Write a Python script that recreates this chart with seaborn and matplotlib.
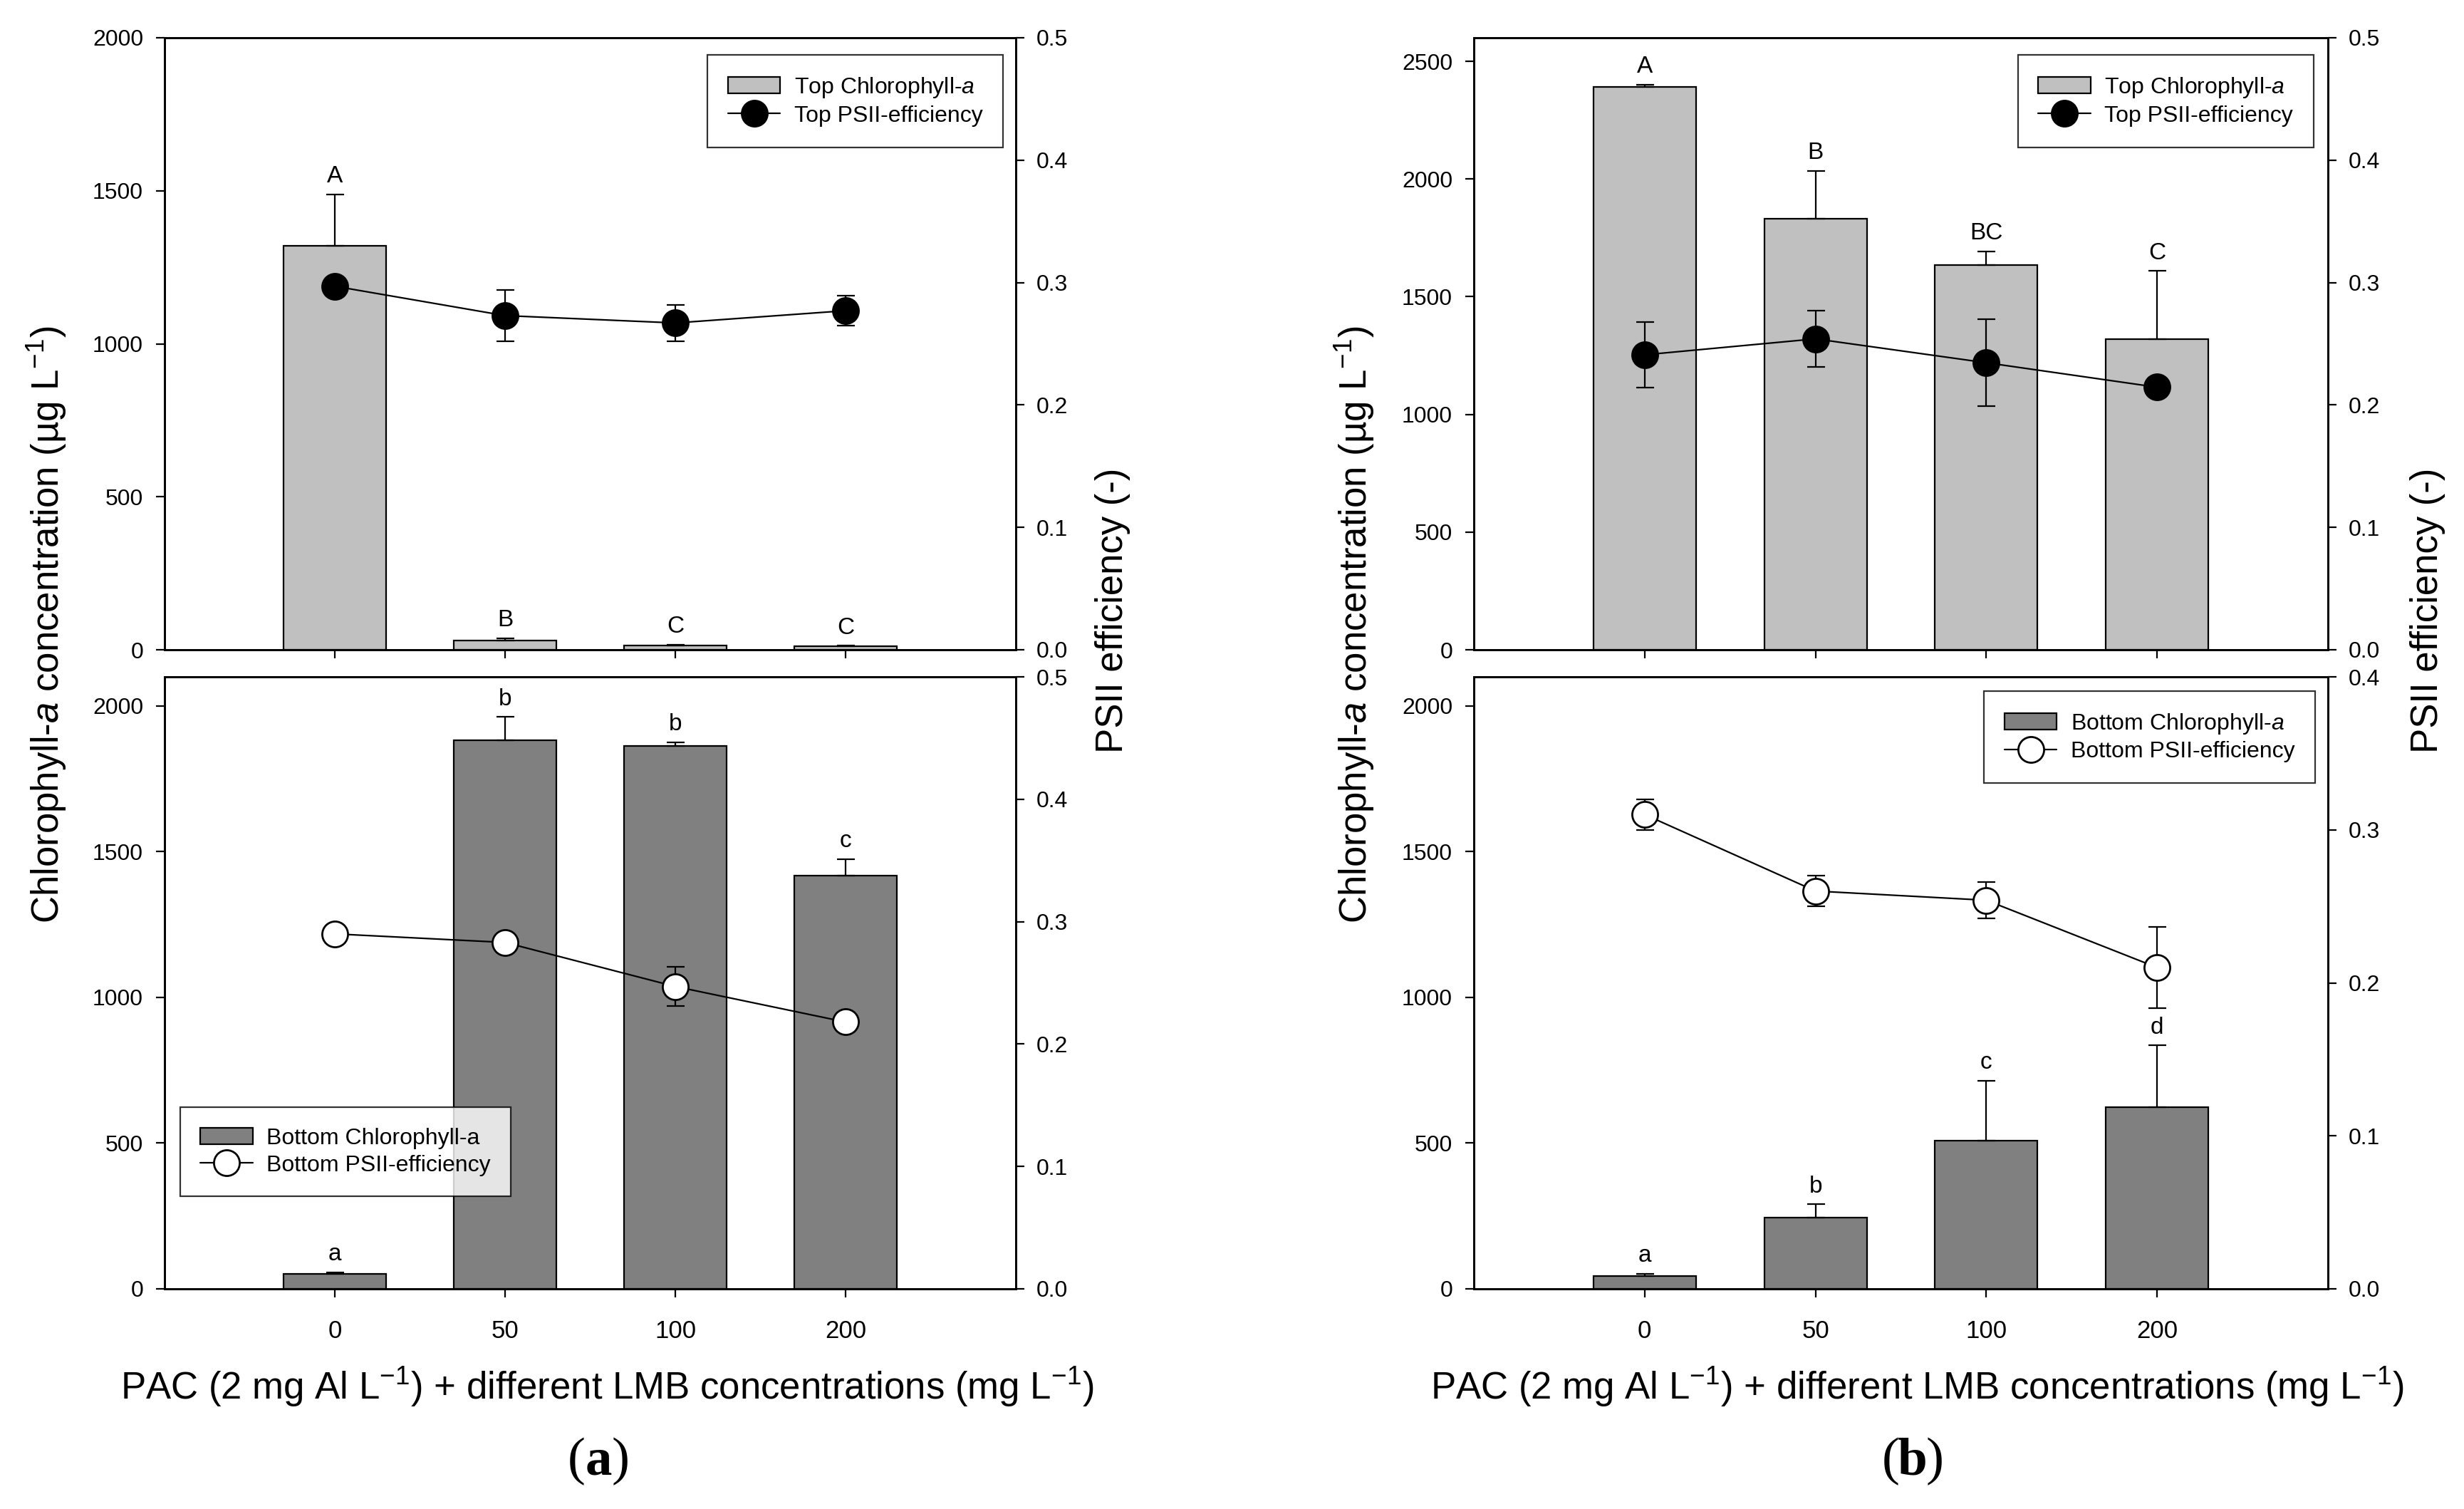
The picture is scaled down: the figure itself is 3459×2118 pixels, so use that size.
"""
Two-panel chlorophyll-a / PSII-efficiency figure: bars (left axis) with
upper error bars and letters, PSII line with markers on a twin right axis.
"""
import numpy as np
import matplotlib
matplotlib.use('Agg')
import matplotlib.pyplot as plt
from matplotlib.patches import Patch
from matplotlib.lines import Line2D
from matplotlib.ticker import FormatStrFormatter
import seaborn as sns

sns.set_theme(style='ticks')
plt.rcParams['font.family'] = ['Liberation Sans', 'DejaVu Sans']
plt.rcParams['mathtext.fontset'] = 'custom'
plt.rcParams['mathtext.rm'] = 'Liberation Sans'
plt.rcParams['mathtext.it'] = 'Liberation Sans:italic'
plt.rcParams['mathtext.bf'] = 'Liberation Sans:bold'
plt.rcParams['axes.edgecolor'] = 'black'
plt.rcParams['xtick.color'] = 'black'
plt.rcParams['ytick.color'] = 'black'
plt.rcParams['text.color'] = 'black'

# ---- data ----
cats = ['0', '50', '100', '200']

# panel (a), top layer
a_top_chl = [1319, 31, 13, 11]
a_top_chl_err = [169, 7, 4, 2]
a_top_psii = [0.297, 0.273, 0.267, 0.277]
a_top_psii_err = [0.002, 0.021, 0.015, 0.012]
a_top_letters = ['A', 'B', 'C', 'C']

# panel (a), bottom layer
a_bot_chl = [51, 1883, 1862, 1419]
a_bot_chl_err = [6, 79, 13, 56]
a_bot_psii = [0.290, 0.283, 0.247, 0.218]
a_bot_psii_err = [0.002, 0.002, 0.016, 0.003]
a_bot_letters = ['a', 'b', 'b', 'c']

# panel (b), top layer
b_top_chl = [2390, 1832, 1635, 1321]
b_top_chl_err = [10, 203, 58, 288]
b_top_psii = [0.241, 0.254, 0.2345, 0.2145]
b_top_psii_err = [0.027, 0.023, 0.0355, 0.002]
b_top_letters = ['A', 'B', 'BC', 'C']

# panel (b), bottom layer
b_bot_chl = [43, 244, 509, 623]
b_bot_chl_err = [8, 46, 206, 212]
b_bot_psii = [0.310, 0.260, 0.254, 0.210]
b_bot_psii_err = [0.010, 0.010, 0.012, 0.0265]
b_bot_letters = ['a', 'b', 'c', 'd']

TOP_COLOR = '#c0c0c0'
BOT_COLOR = '#808080'

W, H = 3459, 2118
DPI = 200
LW = 0.8
CAP = 4.5
TICK_FS = 11.5
LABEL_FS = 19

YLABEL = 'Chlorophyll-$a$ concentration (µg L$^{-1}$)'
Y2LABEL = 'PSII efficiency (-)'
XLABEL = 'PAC (2 mg Al L$^{-1}$) + different LMB concentrations (mg L$^{-1}$)'


def px_box(left, top, right, bottom):
    # pixel box -> figure fraction [l, b, w, h]
    return [left / W, 1 - bottom / H, (right - left) / W, (bottom - top) / H]


def draw_layer(ax, chl, chl_err, psii, psii_err, letters, bar_color, face,
               ylim, yticks, y2lim, y2ticks, show_x, legend_labels, legend_kw):
    x = np.arange(len(cats))
    sns.barplot(x=cats, y=chl, order=cats, color=bar_color, saturation=1,
                edgecolor='black', linewidth=LW, width=0.6, errorbar=None, ax=ax)
    ax.errorbar(x, chl, yerr=[np.zeros(len(chl)), chl_err], fmt='none',
                ecolor='black', elinewidth=LW, capsize=CAP, capthick=LW, zorder=3)
    for xi, v, e, lab in zip(x, chl, chl_err, letters):
        ax.annotate(lab, (xi, v + e), xytext=(0, 6), textcoords='offset points',
                    ha='center', va='baseline', fontsize=TICK_FS + 0.5)

    ax2 = ax.twinx()
    ax2.errorbar(x, psii, yerr=psii_err, fmt='none', ecolor='black',
                 elinewidth=LW, capsize=CAP, capthick=LW, zorder=2)
    sns.lineplot(x=x, y=psii, ax=ax2, color='black', linewidth=LW, marker='o',
                 markersize=13, markerfacecolor=face, markeredgecolor='black',
                 markeredgewidth=1.0, legend=False, zorder=3)

    ax.set_xlim(-1, 4)
    ax.set_ylim(*ylim)
    ax.set_yticks(yticks)
    ax2.set_ylim(*y2lim)
    ax2.set_yticks(y2ticks)
    ax2.yaxis.set_major_formatter(FormatStrFormatter('%.1f'))
    ax.set_xlabel('')
    ax.set_ylabel('')
    ax2.set_ylabel('')

    ax.tick_params(axis='y', direction='out', length=4.3, width=LW,
                   labelsize=TICK_FS, pad=6.5, right=False)
    ax.tick_params(axis='x', direction='out', length=4.3, width=LW,
                   labelsize=TICK_FS + 1, pad=11, top=False,
                   labelbottom=show_x)
    ax2.tick_params(axis='y', direction='out', length=4.3, width=LW,
                    labelsize=TICK_FS, pad=6)
    for a in (ax, ax2):
        for s in a.spines.values():
            s.set_visible(True)
            s.set_linewidth(1.0)
            s.set_color('black')

    handles = [Patch(facecolor=bar_color, edgecolor='black', linewidth=LW),
               Line2D([], [], color='black', linewidth=LW, marker='o',
                      markersize=13, markerfacecolor=face,
                      markeredgecolor='black', markeredgewidth=1.0)]
    leg = ax2.legend(handles, legend_labels, fontsize=TICK_FS, frameon=True,
                     fancybox=False, borderaxespad=0, handlelength=2.3,
                     handleheight=0.75, handletextpad=0.6, labelspacing=0.25,
                     borderpad=0.9, **legend_kw)
    leg.get_frame().set_edgecolor('black')
    leg.get_frame().set_linewidth(LW)
    return ax2


def panel_label(fig, xc, y, letter):
    dx = 18.5 / W
    fig.text(xc - dx, y, '(', ha='right', va='center', fontsize=27,
             family='Liberation Serif')
    fig.text(xc, y, letter, ha='center', va='center', fontsize=27,
             family='Liberation Serif', weight='bold')
    fig.text(xc + dx, y, ')', ha='left', va='center', fontsize=27,
             family='Liberation Serif')


def main():
    fig = plt.figure(figsize=(W / DPI, H / DPI), dpi=DPI)

    # ---- panel (a) ----
    ax_at = fig.add_axes(px_box(231, 53, 1426, 912))
    draw_layer(ax_at, a_top_chl, a_top_chl_err, a_top_psii, a_top_psii_err,
               a_top_letters, TOP_COLOR, 'black',
               (0, 2000), np.arange(0, 2001, 500), (0, 0.5), np.arange(0, 0.51, 0.1),
               False, ['Top Chlorophyll-$a$', 'Top PSII-efficiency'],
               dict(loc='upper right', bbox_to_anchor=(0.985, 0.972)))
    ax_ab = fig.add_axes(px_box(231, 950, 1426, 1809))
    draw_layer(ax_ab, a_bot_chl, a_bot_chl_err, a_bot_psii, a_bot_psii_err,
               a_bot_letters, BOT_COLOR, 'white',
               (0, 2100), np.arange(0, 2001, 500), (0, 0.5), np.arange(0, 0.51, 0.1),
               True, ['Bottom Chlorophyll-a', 'Bottom PSII-efficiency'],
               dict(loc='upper left', bbox_to_anchor=(0.018, 0.297)))

    # ---- panel (b) ----
    ax_bt = fig.add_axes(px_box(2069, 53, 3268, 912))
    draw_layer(ax_bt, b_top_chl, b_top_chl_err, b_top_psii, b_top_psii_err,
               b_top_letters, TOP_COLOR, 'black',
               (0, 2600), np.arange(0, 2501, 500), (0, 0.5), np.arange(0, 0.51, 0.1),
               False, ['Top Chlorophyll-$a$', 'Top PSII-efficiency'],
               dict(loc='upper right', bbox_to_anchor=(0.983, 0.972)))
    ax_bb = fig.add_axes(px_box(2069, 950, 3268, 1809))
    draw_layer(ax_bb, b_bot_chl, b_bot_chl_err, b_bot_psii, b_bot_psii_err,
               b_bot_letters, BOT_COLOR, 'white',
               (0, 2100), np.arange(0, 2001, 500), (0, 0.4), np.arange(0, 0.41, 0.1),
               True, ['Bottom Chlorophyll-$a$', 'Bottom PSII-efficiency'],
               dict(loc='upper right', bbox_to_anchor=(0.985, 0.977)))

    # shared axis titles
    for xl, xr, xx in [(66, 1562, 852), (1902, 3408, 2691)]:
        fig.text(xl / W, 1 - 877 / H, YLABEL, rotation=90, ha='center',
                 va='center', fontsize=LABEL_FS)
        fig.text(xr / W, 1 - 857 / H, Y2LABEL, rotation=90, ha='center',
                 va='center', fontsize=LABEL_FS)
        fig.text(xx / W, 1 - 1947 / H, XLABEL, ha='center', va='center',
                 fontsize=LABEL_FS)
    panel_label(fig, 840 / W, 1 - 2051 / H, 'a')
    panel_label(fig, 2685 / W, 1 - 2051 / H, 'b')

    fig.savefig('out.png', dpi=DPI)
    plt.close(fig)


if __name__ == '__main__':
    main()
